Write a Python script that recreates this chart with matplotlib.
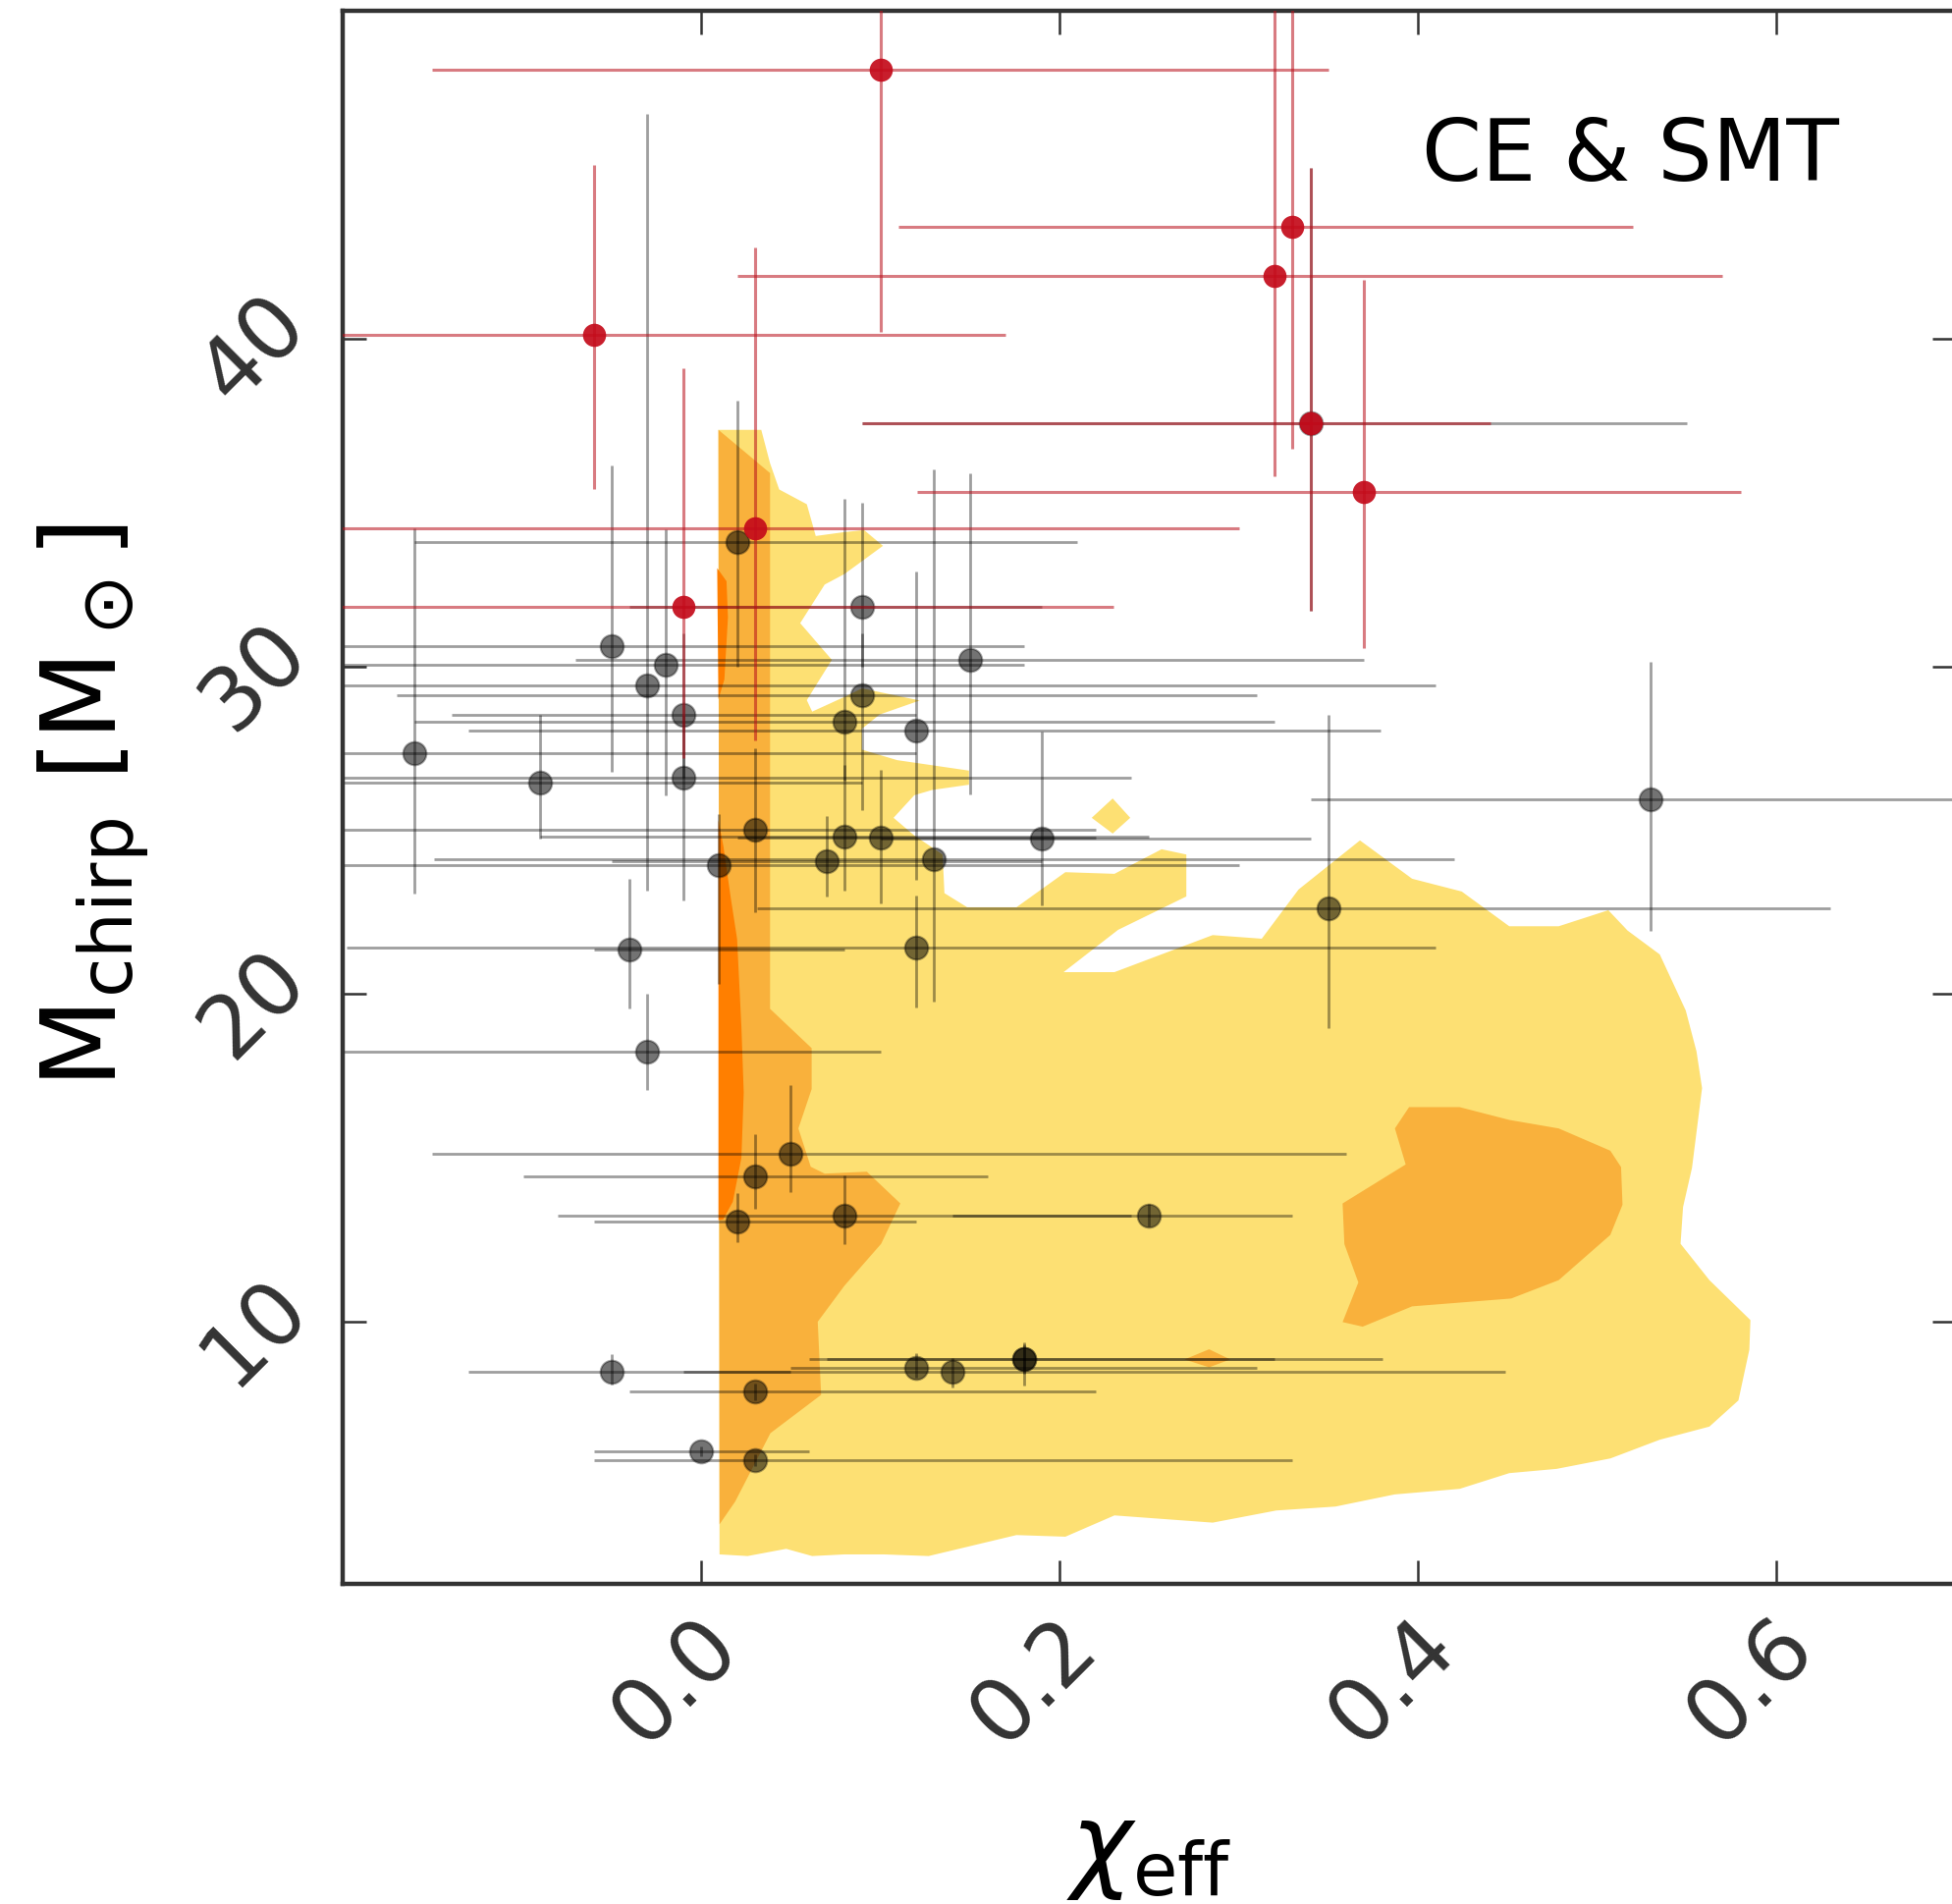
import matplotlib

matplotlib.use("Agg")
import matplotlib.pyplot as plt  # noqa: E402
import matplotlib.transforms as mtransforms  # noqa: E402
import numpy as np  # noqa: E402

# grey events: chi_eff, chirp mass and the ends of their 90% intervals
grey_chi = [-0.160, -0.090, -0.050, -0.030, -0.020, -0.010, -0.010, 0.020, 0.030, 0.010,
            0.070, 0.080, 0.080, 0.090, 0.090, 0.100, 0.120, 0.130, 0.150, 0.190,
            0.120, -0.040, -0.030, 0.350, 0.530, 0.050, 0.030, 0.020, 0.080, 0.250,
            -0.050, 0.030, 0.120, 0.140, 0.180, 0.180, 0.000, 0.030, 0.340]
grey_chi_lo = [-0.25, -0.25, -0.25, -0.25, -0.25, -0.139, -0.25, -0.160, -0.25, -0.25,
               -0.050, -0.160, -0.090, -0.040, -0.170, 0.020, -0.130, -0.149, -0.070, 0.100,
               -0.198, -0.060, -0.25, 0.031, 0.340, -0.150, -0.099, -0.060, -0.080, 0.140,
               -0.130, -0.040, 0.050, -0.010, 0.060, 0.070, -0.060, -0.060, 0.090]
grey_chi_hi = [0.120, 0.090, 0.180, 0.410, 0.180, 0.120, 0.240, 0.210, 0.220, 0.300,
               0.190, 0.320, 0.250, 0.190, 0.310, 0.220, 0.379, 0.420, 0.370, 0.340,
               0.410, 0.080, 0.100, 0.630, 0.750, 0.360, 0.160, 0.120, 0.240, 0.330,
               0.050, 0.220, 0.310, 0.449, 0.320, 0.380, 0.060, 0.330, 0.550]
grey_mc = [27.34, 26.45, 30.62, 29.43, 30.05, 28.53, 26.61, 33.81, 25.03, 23.94,
           24.05, 28.32, 24.82, 31.83, 29.12, 24.77, 28.03, 24.13, 30.21, 24.74,
           21.42, 21.35, 18.24, 22.63, 25.94, 15.14, 14.44, 13.05, 13.24, 13.24,
           8.48, 7.87, 8.59, 8.48, 8.87, 8.87, 6.06, 5.77, 37.42]
grey_mc_lo = [23.06, 24.74, 26.77, 23.16, 26.05, 26.60, 22.86, 29.99, 22.50, 20.30,
              22.98, 26.50, 23.16, 30.00, 25.60, 22.76, 23.50, 19.77, 26.08, 22.70,
              19.60, 19.57, 17.07, 18.95, 21.94, 13.96, 13.45, 12.43, 12.37, 12.90,
              8.08, 7.60, 8.30, 8.00, 8.05, 8.40, 5.90, 5.60, 31.70]
grey_mc_hi = [34.21, 28.53, 36.12, 46.87, 34.20, 31.00, 28.50, 38.10, 27.50, 25.50,
              25.44, 35.10, 27.00, 34.98, 31.00, 26.83, 32.90, 36.00, 35.90, 28.00,
              23.00, 23.53, 20.00, 28.51, 30.13, 17.21, 15.73, 13.93, 14.47, 13.60,
              9.01, 8.10, 9.05, 8.90, 9.37, 9.30, 6.20, 5.95, 45.20]

# red events
red_chi = [0.100, -0.060, 0.330, 0.320, 0.340, 0.370, 0.030, -0.010]
red_chi_lo = [-0.150, -0.25, 0.110, 0.020, 0.090, 0.1205, -0.25, -0.25]
red_chi_hi = [0.350, 0.170, 0.520, 0.570, 0.4405, 0.580, 0.300, 0.230]
red_mc = [48.21, 40.12, 43.42, 41.92, 37.42, 35.33, 34.23, 31.83]
red_mc_lo = [40.20, 35.40, 36.64, 35.80, 31.70, 30.56, 27.75, 27.20]
red_mc_hi = [52.0, 45.30, 52.0, 52.0, 45.20, 41.80, 42.80, 39.10]

# population contours (outer 90%, inner 50%, core) read as polygons in (chi_eff, Mchirp)
outer_chi = [0.0097, 0.0336, 0.0385, 0.0436, 0.059, 0.064, 0.080, 0.091, 0.1015, 0.080,
             0.069, 0.0553, 0.073, 0.065, 0.059, 0.062, 0.080, 0.0898, 0.122, 0.0996,
             0.0898, 0.0898, 0.1094, 0.1495, 0.1495, 0.129, 0.119, 0.1074, 0.119, 0.1348,
             0.1358, 0.1485, 0.176, 0.2033, 0.2307, 0.257, 0.2708, 0.2708, 0.2327, 0.2023,
             0.2307, 0.2855, 0.3129, 0.3334, 0.3677, 0.3968, 0.4245, 0.451, 0.4786, 0.5063,
             0.517, 0.535, 0.5495, 0.5555, 0.5586, 0.553, 0.548, 0.5466, 0.5627, 0.5856,
             0.585, 0.5789, 0.5627, 0.535, 0.5075, 0.4774, 0.451, 0.4233, 0.387, 0.354,
             0.321, 0.2855, 0.2307, 0.2033, 0.176, 0.127, 0.102, 0.080, 0.062, 0.0475,
             0.026, 0.0103]
outer_mc = [37.22, 37.22, 36.2, 35.4, 34.95, 33.98, 34.1, 34.16, 33.68, 32.82,
            32.5, 31.32, 30.2, 29.5, 28.97, 28.62, 29.07, 29.33, 28.96, 28.53,
            28.1, 27.46, 27.14, 26.82, 26.39, 26.23, 26.07, 25.38, 24.84, 24.26,
            23.08, 22.65, 22.65, 23.72, 23.67, 24.42, 24.26, 22.98, 21.96, 20.67,
            20.67, 21.8, 21.69, 23.19, 24.69, 23.52, 23.13, 22.07, 22.07, 22.56,
            21.94, 21.21, 19.5, 18.25, 17.13, 14.7, 13.5, 12.38, 11.27, 10.05,
            9.15, 7.6, 6.8, 6.4, 5.83, 5.51, 5.38, 4.9, 4.73, 4.36,
            4.24, 3.87, 4.09, 3.44, 3.49, 2.85, 2.9, 2.9, 2.85, 3.07,
            2.85, 2.9]
isle_chi = [0.218, 0.2297, 0.2395, 0.2297]
isle_mc = [25.38, 25.97, 25.38, 24.9]

mid_left_chi = [0.0097, 0.0385, 0.0385, 0.0617, 0.0617, 0.0543, 0.0612, 0.069, 0.0925, 0.1112,
                0.1005, 0.080, 0.0651, 0.067, 0.0387, 0.019, 0.0103]
mid_left_mc = [37.22, 35.9, 19.55, 18.35, 17.1, 15.9, 14.73, 14.52, 14.58, 13.61,
               12.38, 11.1, 10.0, 7.77, 6.6, 4.51, 3.82]
mid_right_chi = [0.3951, 0.4233, 0.451, 0.4786, 0.5074, 0.5134, 0.5142, 0.5074, 0.4786, 0.4521,
                 0.3968, 0.3692, 0.358, 0.3668, 0.359, 0.358, 0.3932, 0.3872]
mid_right_mc = [16.55, 16.55, 16.16, 15.9, 15.22, 14.72, 13.57, 12.65, 11.27, 10.71,
                10.47, 9.85, 9.99, 11.2, 12.37, 13.61, 14.8, 15.9]
mid_dot_chi = [0.2698, 0.2835, 0.2953, 0.2835]
mid_dot_mc = [8.85, 9.16, 8.85, 8.61]

core_top_chi = [0.0097, 0.0090, 0.0142, 0.0150, 0.0130, 0.0097]
core_top_mc = [29.0, 33.0, 32.6, 31.5, 29.6, 29.0]
core_low_chi = [0.0097, 0.0097, 0.0125, 0.0164, 0.0201, 0.0225, 0.0238, 0.0225, 0.0177, 0.0123]
core_low_mc = [13.1, 25.3, 24.5, 23.0, 21.68, 19.0, 17.0, 15.0, 13.66, 13.12]

YELLOW = "#fde073"
ORANGE = "#f9b13c"
DARK = "#ff7f00"


def bounds_to_err(val, lo, hi):
    val = np.asarray(val)
    return [val - np.asarray(lo), np.asarray(hi) - val]


fig = plt.figure(figsize=(19.88, 19.40), dpi=100)
ax = fig.add_axes([349 / 1988, 326 / 1940, 1642.5 / 1988, 1601.7 / 1940])

ax.fill(outer_chi, outer_mc, color=YELLOW, lw=0, zorder=1)
ax.fill(isle_chi, isle_mc, color=YELLOW, lw=0, zorder=1)
for cx, cy in [(mid_left_chi, mid_left_mc), (mid_right_chi, mid_right_mc), (mid_dot_chi, mid_dot_mc)]:
    ax.fill(cx, cy, color=ORANGE, lw=0, zorder=1.1)
for cx, cy in [(core_top_chi, core_top_mc), (core_low_chi, core_low_mc)]:
    ax.fill(cx, cy, color=DARK, lw=0, zorder=1.2)

eb = ax.errorbar(grey_chi, grey_mc,
                 xerr=bounds_to_err(grey_chi, grey_chi_lo, grey_chi_hi),
                 yerr=bounds_to_err(grey_mc, grey_mc_lo, grey_mc_hi),
                 fmt="o", ms=17, mfc=(0, 0, 0, 0.55), mec=(0, 0, 0, 0.35), mew=1.5,
                 ecolor=(0, 0, 0, 0.38), elinewidth=2.0, capsize=0)
eb[0].set_zorder(2)
for c in eb[2]:
    c.set_zorder(2.1)

rb = ax.errorbar(red_chi, red_mc,
                 xerr=bounds_to_err(red_chi, red_chi_lo, red_chi_hi),
                 yerr=bounds_to_err(red_mc, red_mc_lo, red_mc_hi),
                 fmt="o", ms=17, mfc=(0.77, 0.04, 0.1, 0.92), mec="none",
                 ecolor=(0.72, 0.06, 0.1, 0.55), elinewidth=2.2, capsize=0)
rb[0].set_zorder(3.1)
for c in rb[2]:
    c.set_zorder(3)

ax.set_xlim(-0.2, 0.7)
ax.set_ylim(2, 50)
ax.set_xticks([0.0, 0.2, 0.4, 0.6])
ax.set_yticks([10, 20, 30, 40])
ax.tick_params(direction="in", length=17, width=1.8, top=True, right=True,
               labelsize=64, colors="#333333")
ax.tick_params(axis="x", pad=13)
ax.tick_params(axis="y", pad=14)

dx_shift = mtransforms.ScaledTranslation(0.55, 0, fig.dpi_scale_trans)
for lab in ax.get_xticklabels():
    lab.set_rotation(45)
    lab.set_ha("right")
    lab.set_va("top")
    lab.set_transform(lab.get_transform() + dx_shift)
dy_shift = mtransforms.ScaledTranslation(0, -0.10, fig.dpi_scale_trans)
for lab in ax.get_yticklabels():
    lab.set_rotation(45)
    lab.set_ha("right")
    lab.set_va("center")
    lab.set_transform(lab.get_transform() + dy_shift)
for s in ax.spines.values():
    s.set_linewidth(3.2)
    s.set_color("#333333")

ax.set_xlabel(r"$\chi_{\rm eff}$", fontsize=76)
ax.xaxis.set_label_coords(0.5, -0.170)
ax.xaxis.label.set_va("center")
ax.set_ylabel(r"M$_{\rm chirp}$ [M$_\odot$]", fontsize=76)
ax.yaxis.set_label_coords(-0.154, 0.495)
ax.yaxis.label.set_va("center")

ax.text(0.669, 0.893, "CE & SMT", transform=ax.transAxes, fontsize=63,
        ha="left", va="baseline", zorder=5)

fig.savefig("out.png", dpi=100)
